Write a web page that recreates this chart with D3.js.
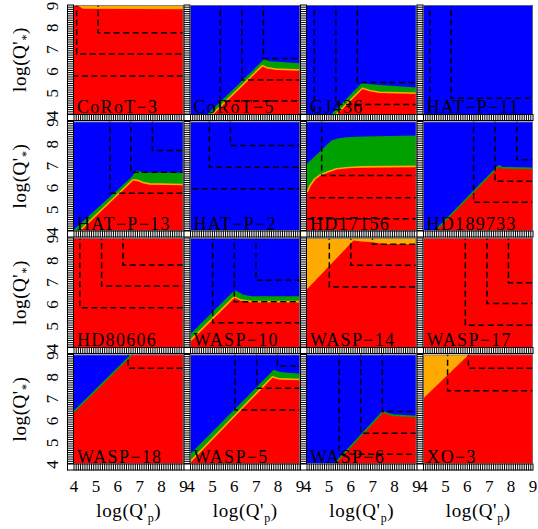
<!DOCTYPE html>
<html>
<head>
<meta charset="utf-8">
<script src="https://cdn.jsdelivr.net/npm/d3@7"></script>
<style>
  body { margin: 0; background: #fff; }
  svg  { display: block; }
</style>
</head>
<body>
<svg id="chart"></svg>
<script>
/* ── Panel data (log Q'p on x, log Q'* on y) ── */
const NAMES = ['CoRoT-3', 'CoRoT-5', 'GJ436', 'HAT-P-11',
               'HAT-P-13', 'HAT-P-2', 'HD17156', 'HD189733',
               'HD80606', 'WASP-10', 'WASP-14', 'WASP-17',
               'WASP-18', 'WASP-5', 'WASP-6', 'XO-3'];

// background region of each panel
const BACKGROUND = ['orange', 'blue', 'blue', 'blue',
                    'blue', 'blue', 'blue', 'blue',
                    'red', 'blue', 'orange', 'red',
                    'blue', 'blue', 'blue', 'orange'];

// upper boundary of the red region [logQp, logQs]
const RED_TOP = [
  [[4, 8.96], [4.2, 8.96], [4.3, 8.9], [4.4, 8.83], [9, 8.8]],
  [[5.01, 4], [7.28, 6.22], [7.5, 6.12], [7.9, 6.06], [9, 6.02]],
  [[5.35, 4], [6.53, 5.18], [6.9, 5.07], [7.32, 5.0], [9, 4.95]],
  null,
  [[4.27, 4], [6.69, 6.33], [6.9, 6.3], [7.15, 6.2], [7.45, 6.14], [9, 6.11]],
  null,
  [[4, 5.76], [4.15, 6.08], [4.36, 6.37], [4.6, 6.55], [4.9, 6.67], [5.35, 6.83],
   [5.9, 6.89], [6.5, 6.92], [9, 6.94]],
  [[4.55, 4], [7.35, 6.88], [7.45, 6.97], [7.6, 6.88], [9, 6.85]],
  null,
  [[4, 4.3], [6.0, 6.3], [6.3, 6.15], [6.8, 6.08], [9, 6.08]],
  [[4, 6.65], [6.12, 8.88], [6.5, 8.84], [7.0, 8.8], [7.5, 8.73], [9, 8.7]],
  null,
  [[4, 6.38], [6.84, 9.2], [9, 9.2]],
  [[4, 4.1], [7.74, 7.98], [7.9, 7.92], [8.1, 7.88], [9, 7.85]],
  [[5.27, 4], [7.47, 6.38], [7.7, 6.28], [7.92, 6.22], [9, 6.15]],
  [[4, 6.99], [6.28, 9.2], [9, 9.2]],
];

// upper boundary of the green band
const GREEN_TOP = [
  null,
  [[4.79, 4], [7.36, 6.51], [7.6, 6.42], [9, 6.33]],
  [[5.12, 4], [6.49, 5.41], [7.32, 5.33], [9, 5.22]],
  null,
  [[4, 4.05], [6.62, 6.44], [6.75, 6.62], [6.85, 6.74], [6.95, 6.74], [7.1, 6.66], [9, 6.65]],
  null,
  [[4, 7.06], [5.12, 8.13], [5.4, 8.22], [5.8, 8.28], [6.56, 8.31], [9, 8.36]],
  null,
  null,
  [[4, 4.6], [5.95, 6.55], [6.1, 6.58], [6.4, 6.4], [6.8, 6.33], [9, 6.33]],
  null,
  null,
  null,
  [[4, 4.45], [7.8, 8.3], [8.1, 8.2], [9, 8.12]],
  null,
  null,
];

// thin line drawn along the red boundary
const EDGE = [null, 'orange', 'orange', null,
              'orange', null, 'orange', 'green',
              null, 'orange', null, null,
              'green', 'orange', 'green', null];

// corners of the dashed limits [logQp, logQs]
const LIMITS = [
  [[4.12, 6.75], [5.1, 7.73], [3.9, 5.74]],
  [[5.36, 4.6], [6.35, 5.56], [7.33, 6.55]],
  [[4.33, 3.9], [5.32, 4.44], [6.3, 5.44]],
  [[4.29, 3.9], [5.26, 4.72]],
  [[5.64, 5.71], [6.59, 6.67], [7.58, 7.67]],
  [[3.9, 5.91], [4.86, 6.9], [5.82, 7.9]],
  [[3.9, 4.54], [3.9, 5.5], [4.67, 6.52]],
  [[6.29, 5.3], [7.27, 6.26], [8.26, 7.24]],
  [[4.27, 5.8], [5.26, 6.8], [6.24, 7.76]],
  [[5.01, 5.11], [6.0, 6.08], [6.99, 7.06]],
  [[5.02, 6.75], [6.0, 7.75], [6.99, 8.71]],
  [[5.91, 5.0], [6.9, 5.99], [7.88, 6.95]],
  [[6.47, 8.37]],
  [[6.03, 6.45], [7.02, 7.45], [7.97, 8.47]],
  [[5.47, 4.42], [6.45, 5.39], [7.44, 6.38]],
  [[5.1, 7.34], [6.05, 8.37]],
];

const TICKS = [4, 5, 6, 7, 8, 9];

const COLOR = {
  red:    '#ff0000',
  blue:   '#0000ff',
  green:  '#00a000',
  orange: '#ffaa00',
};

/* ── Layout ── */
const W = 538, H = 529;
const LEFT = 74, TOP = 5;
const STEP_X = 116.5, STEP_Y = 116.5;
const PW = 109.5, PH = 109;
const STRIP = 7;
const FONT = '"Liberation Serif", "DejaVu Serif", serif';

const svg = d3.select('#chart')
  .attr('width', W)
  .attr('height', H)
  .attr('viewBox', `0 0 ${W} ${H}`);

const defs = svg.append('defs');
const minor = d3.range(40, 91).map(v => v / 10);

NAMES.forEach((name, i) => {
  const col = i % 4, row = Math.floor(i / 4);
  const px = LEFT + col * STEP_X;
  const py = TOP + row * STEP_Y;

  const x = d3.scaleLinear().domain([4, 9]).range([px, px + PW]);
  const y = d3.scaleLinear().domain([4, 9]).range([py + PH, py]);

  defs.append('clipPath').attr('id', 'clip' + i)
    .append('rect')
    .attr('x', px).attr('y', py)
    .attr('width', PW).attr('height', PH);

  const g = svg.append('g').attr('clip-path', `url(#clip${i})`);

  g.append('rect')
    .attr('x', px).attr('y', py)
    .attr('width', PW).attr('height', PH)
    .attr('fill', COLOR[BACKGROUND[i]]);

  const area = d3.area()
    .x(d => x(d[0]))
    .y0(y(3.8))
    .y1(d => y(d[1]));

  const line = d3.line()
    .x(d => x(d[0]))
    .y(d => y(d[1]));

  if (GREEN_TOP[i]) {
    g.append('path').datum(GREEN_TOP[i])
      .attr('d', area)
      .attr('fill', COLOR.green);
  }
  if (RED_TOP[i]) {
    g.append('path').datum(RED_TOP[i])
      .attr('d', area)
      .attr('fill', COLOR.red);
  }
  if (EDGE[i]) {
    g.append('path').datum(RED_TOP[i])
      .attr('d', line)
      .attr('fill', 'none')
      .attr('stroke', COLOR[EDGE[i]])
      .attr('stroke-width', 1.6)
      .attr('stroke-linejoin', 'round');
  }

  // dashed limits: down from the top, then across to the right
  g.selectAll('.limit')
    .data(LIMITS[i])
    .join('path')
    .attr('class', 'limit')
    .attr('d', d => `M${x(d[0])},${y(9.2)}V${y(d[1])}H${x(9.2)}`)
    .attr('fill', 'none')
    .attr('stroke', '#000')
    .attr('stroke-width', 1.5)
    .attr('stroke-dasharray', '6,3.5');

  /* ── Tick strips (left and bottom) ── */
  const frame = svg.append('g');

  frame.append('rect')
    .attr('x', px - STRIP).attr('y', py)
    .attr('width', STRIP).attr('height', PH + STRIP)
    .attr('fill', '#fff');
  frame.append('rect')
    .attr('x', px - STRIP).attr('y', py + PH)
    .attr('width', PW + STRIP).attr('height', STRIP)
    .attr('fill', '#fff');

  frame.selectAll('.ytick')
    .data(minor)
    .join('line')
    .attr('x1', px - STRIP).attr('x2', px)
    .attr('y1', d => y(d)).attr('y2', d => y(d))
    .attr('stroke', '#000').attr('stroke-width', 1);

  frame.selectAll('.xtick')
    .data(minor)
    .join('line')
    .attr('y1', py + PH).attr('y2', py + PH + STRIP)
    .attr('x1', d => x(d)).attr('x2', d => x(d))
    .attr('stroke', '#000').attr('stroke-width', 1);

  const edges = [
    [px - STRIP + 0.5, py, px - STRIP + 0.5, py + PH + STRIP],
    [px - 0.5, py, px - 0.5, py + PH],
    [px - STRIP, py + PH + 0.5, px + PW, py + PH + 0.5],
    [px - STRIP, py + PH + STRIP - 0.5, px + PW, py + PH + STRIP - 0.5],
  ];
  frame.selectAll('.edge')
    .data(edges)
    .join('line')
    .attr('x1', d => d[0]).attr('y1', d => d[1])
    .attr('x2', d => d[2]).attr('y2', d => d[3])
    .attr('stroke', '#000').attr('stroke-width', 1);

  // thin outline on the open sides
  frame.append('path')
    .attr('d', `M${px},${py + 0.5}H${px + PW - 0.5}V${py + PH}`)
    .attr('fill', 'none')
    .attr('stroke', '#777')
    .attr('stroke-width', 0.8);

  /* ── Panel label ── */
  svg.append('text')
    .attr('x', px + 3)
    .attr('y', py + PH - 1)
    .attr('font-family', FONT)
    .attr('font-size', 18)
    .attr('letter-spacing', 1.3)
    .attr('fill', '#000')
    .text(name.replace(/-/g, '\u2212'));

  /* ── Tick labels ── */
  if (col === 0) {
    svg.selectAll(null)
      .data(TICKS)
      .join('text')
      .attr('transform', d => `translate(58,${y(d) + 1}) rotate(-90)`)
      .attr('text-anchor', 'middle')
      .attr('font-family', FONT)
      .attr('font-size', 17)
      .text(d => d);

    const yt = svg.append('text')
      .attr('transform', `translate(26,${py + PH / 2}) rotate(-90)`)
      .attr('text-anchor', 'middle')
      .attr('font-family', FONT)
      .attr('font-size', 19)
      .attr('letter-spacing', 0.6);
    yt.append('tspan').text("log(Q'");
    yt.append('tspan').attr('font-size', 12).attr('dy', 4).text('*');
    yt.append('tspan').attr('dy', -4).text(')');
  }

  if (row === 3) {
    svg.selectAll(null)
      .data(TICKS)
      .join('text')
      .attr('x', d => x(d))
      .attr('y', 492)
      .attr('text-anchor', 'middle')
      .attr('font-family', FONT)
      .attr('font-size', 17)
      .text(d => d);

    const xt = svg.append('text')
      .attr('x', px + PW / 2)
      .attr('y', 517)
      .attr('text-anchor', 'middle')
      .attr('font-family', FONT)
      .attr('font-size', 19)
      .attr('letter-spacing', 0.6);
    xt.append('tspan').text("log(Q'");
    xt.append('tspan').attr('font-size', 12).attr('dy', 5).text('p');
    xt.append('tspan').attr('dy', -5).text(')');
  }
});
</script>
</body>
</html>
